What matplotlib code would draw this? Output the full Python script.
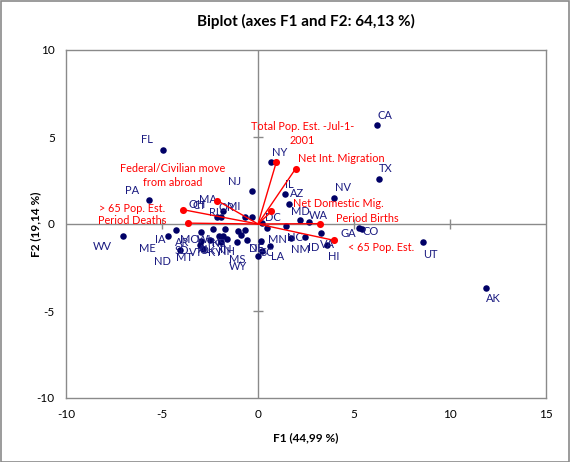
import matplotlib
matplotlib.use("Agg")
import matplotlib.pyplot as plt
import numpy as np

plt.rcParams['font.family'] = ['Lato', 'DejaVu Sans']

# ---- data ----
states = ["CA","TX","NV","UT","AK","GA","CO","NY","IL","AZ","NJ","MD","WA","DC",
          "NC","NM","ID","VA","HI","MN","NE","SC","LA","DE","MI","OR","RI","MA",
          "FL","PA","WV","IA","ME","ND","AR","SD","MT","VT","AL","OK","MO","WI",
          "TN","KS","KY","NH","IN","MS","WY","OH","CT"]
f1 = [6.18, 6.29, 3.94, 8.61, 11.86, 5.28, 5.43, 0.70, 1.39, 1.64, -0.33, 2.19, 2.64, 0.23,
      1.44, 1.74, 2.43, 3.27, 3.58, 0.49, 0.14, 0.62, 0.23, 0.00, -0.68, -1.84, -2.11, -1.94,
      -4.96, -5.69, -7.05, -4.29, -4.70, -4.06, -2.99, -3.02, -2.86, -2.50, -2.33, -2.03, -2.97, -1.74,
      -1.81, -1.94, -1.63, -1.11, -0.86, -1.04, -0.55, -0.66, -0.33]
f2 = [5.67, 2.60, 1.51, -1.06, -3.66, -0.25, -0.31, 3.54, 1.72, 1.17, 1.89, 0.25, 0.10, 0.07,
      -0.14, -0.79, -0.77, -0.54, -1.23, -0.21, -1.00, -1.29, -1.53, -1.82, 0.38, 0.72, 0.40, 0.40,
      4.27, 1.36, -0.67, -0.33, -0.71, -1.52, -1.00, -1.19, -1.42, -0.94, -0.27, -0.71, -0.48, -0.27,
      -0.71, -1.06, -0.86, -1.06, -0.61, -0.42, -0.90, -0.33, 0.38]

variables = ["Total Pop. Est. -Jul-1-\n2001", "Net Int. Migration", "Net Domestic Mig.",
             "Period Births", "< 65 Pop. Est.", "> 65 Pop. Est.", "Period Deaths",
             "Federal/Civilian move\nfrom abroad"]
v1 = [0.96, 1.96, 0.70, 3.21, 3.96, -3.89, -3.65, -2.11]
v2 = [3.58, 3.18, 0.72, 0.02, -0.94, 0.82, 0.05, 1.34]

xticks = [-10, -5, 0, 5, 10, 15]
yticks = [-10, -5, 0, 5, 10]

# ---- label placement (pixels, styling only) ----
st_off = {"CA":(8,-10),"TX":(7,-10),"NV":(9,-10),"UT":(7,12),"AK":(8,11),"GA":(-11,5),
          "CO":(8,2),"NY":(8,-10),"IL":(5,-10),"AZ":(8,-10),"NJ":(-17,-10),"MD":(0,-8),
          "WA":(10,-7),"DC":(10,-5),"NC":(9,11),"NM":(9,12),"ID":(9,10),"VA":(7,11),
          "HI":(7,11),"MN":(10,12),"NE":(-4,7),"SC":(-3,6),"LA":(15,6),"DE":(-2,-7),
          "MI":(-11,-11),"OR":(4,-4),"RI":(-4,-5),"MA":(-13,-18),"FL":(-16,-10),
          "PA":(-17,-10),"WV":(-20,11),"IA":(-15,10),"ME":(-20,12),"ND":(-18,11),
          "AR":(-18,1),"SD":(-18,6),"MT":(-19,9),"VT":(-14,12),"AL":(-9,21),"OK":(-11,14),
          "MO":(-11,7),"WI":(-21,11),"TN":(-10,6),"KS":(-2,1),"KY":(-12,14),"NH":(-10,9),
          "IN":(-16,15),"MS":(-1,28),"WY":(-9,27),"OH":(-48,-25),"CT":(-52,-12)}
var_off = [((26,-28),'center'), ((2,-10),'left'), ((22,-8),'left'), ((16,-5),'left'),
           ((14,7),'left'), ((-18,-1),'right'), ((-22,-3),'right'), ((-45,-25),'center')]

W, H, DPI = 570, 462, 100
fig = plt.figure(figsize=(W/DPI, H/DPI), dpi=DPI)
fig.patch.set_facecolor('white')
fig.add_artist(plt.Rectangle((0.001, 0.001), 0.997, 0.997, transform=fig.transFigure,
                             fill=False, edgecolor='#8a8a8a', lw=1.2))

ax = fig.add_axes([66/W, 1-398/H, 480/W, 348/H])
ax.set_xlim(-10, 15)
ax.set_ylim(-10, 10)
for s in ax.spines.values():
    s.set_color('#8a8a8a')
    s.set_linewidth(1.0)
ax.set_xticks(xticks)
ax.set_yticks(yticks)
ax.tick_params(length=0, labelsize=8.5, pad=8)
ax.set_xticklabels([str(t) for t in xticks])
ax.set_yticklabels([str(t) for t in yticks])

gray = '#8a8a8a'
ax.axhline(0, color=gray, lw=1.0, zorder=1)
ax.axvline(0, color=gray, lw=1.0, zorder=1)
xt = [t for t in xticks if t not in (0, xticks[0], xticks[-1])]
yt = [t for t in yticks if t not in (0, yticks[0], yticks[-1])]
ax.plot(xt, [0]*len(xt), ls='none', marker='|', ms=7, mew=1.0, color=gray, zorder=1)
ax.plot([0]*len(yt), yt, ls='none', marker='_', ms=7, mew=1.0, color=gray, zorder=1)

# observations
navy = '#000066'
ax.scatter(f1, f2, s=22, color=navy, zorder=3, linewidths=0)
for s, x, y in zip(states, f1, f2):
    dx, dy = st_off[s]
    ax.annotate(s, (x, y), xytext=(dx, -dy), textcoords='offset pixels',
                ha='center', va='center', fontsize=8, color='#1a1a80', zorder=4)

# variables
red = '#ff0000'
for name, x, y, (off, ha) in zip(variables, v1, v2, var_off):
    ax.plot([0, x], [0, y], color=red, lw=1.0, zorder=5)
    ax.annotate(name, (x, y), xytext=(off[0], -off[1]), textcoords='offset pixels',
                ha=ha, va='center', fontsize=7.8, color=red, zorder=6,
                multialignment='center', linespacing=1.3)
ax.scatter(v1, v2, s=26, color=red, zorder=6, linewidths=0)

ax.set_title("Biplot (axes F1 and F2: 64,13 %)", fontsize=11, fontweight='bold', pad=17)
ax.set_xlabel("F1 (44,99 %)", fontsize=8.5, fontweight='bold', labelpad=9)
ax.set_ylabel("F2 (19,14 %)", fontsize=8.5, fontweight='bold', labelpad=-3)

fig.savefig("out.png", dpi=DPI)
